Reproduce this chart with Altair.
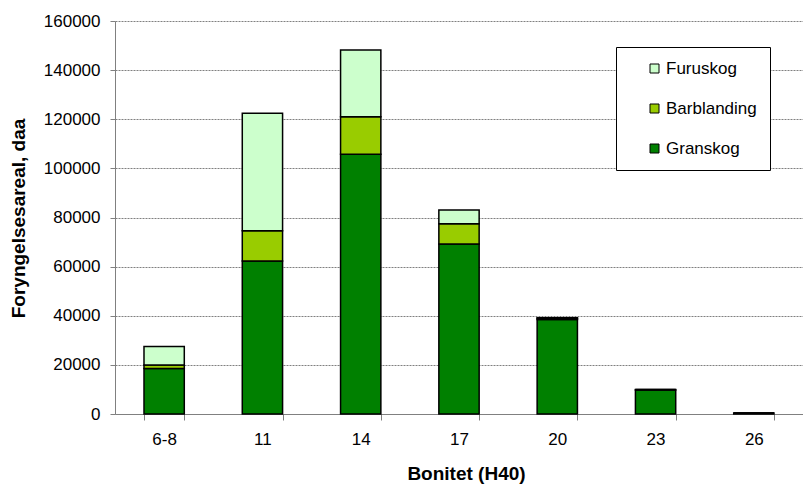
import altair as alt
import pandas as pd

# Forest regeneration area (daa) by site index class, split by forest type
bonitet = ["6-8", "11", "14", "17", "20", "23", "26"]
granskog = [18500, 62300, 105800, 69200, 38500, 9800, 400]
barblanding = [1500, 12300, 15200, 8300, 500, 200, 0]
furuskog = [7500, 47800, 27200, 5600, 200, 0, 0]

series = ["Granskog", "Barblanding", "Furuskog"]
colors = {"Granskog": "#008000", "Barblanding": "#99CC00", "Furuskog": "#CCFFCC"}

rows = []
for i, b in enumerate(bonitet):
    for rank, (name, vals) in enumerate(zip(series, [granskog, barblanding, furuskog])):
        rows.append({"Bonitet": b, "Type": name, "Areal": vals[i], "rank": rank})
df = pd.DataFrame(rows)

legend_order = ["Furuskog", "Barblanding", "Granskog"]
FONT = "Liberation Sans"

chart = (
    alt.Chart(df)
    .mark_bar(stroke="black", strokeWidth=1.5)
    .encode(
        x=alt.X(
            "Bonitet:N",
            sort=bonitet,
            scale=alt.Scale(paddingInner=0.59, paddingOuter=0.295),
            axis=alt.Axis(
                title="Bonitet (H40)",
                labelAngle=0,
                tickBand="extent",
                tickSize=6,
                labelPadding=11,
                titleY=59,
                titleX=351,
                titleBaseline="middle",
            ),
        ),
        y=alt.Y(
            "Areal:Q",
            stack="zero",
            scale=alt.Scale(domain=[0, 160000], nice=False),
            axis=alt.Axis(
                title="Foryngelsesareal, daa",
                values=list(range(0, 160001, 20000)),
                format="d",
                tickSize=5,
                labelPadding=10,
                grid=True,
                gridColor="#808080",
                gridDash=[2, 1],
                gridWidth=1,
                titleX=-97,
                titleY=197,
                titleAngle=-90,
                titleAlign="center",
                titleBaseline="middle",
            ),
        ),
        color=alt.Color(
            "Type:N",
            scale=alt.Scale(domain=legend_order, range=[colors[s] for s in legend_order]),
            legend=alt.Legend(
                title=None,
                orient="none",
                legendX=501,
                legendY=26,
                padding=13,
                symbolType="square",
                symbolSize=81,
                symbolStrokeColor="black",
                symbolStrokeWidth=1,
                symbolOffset=17,
                labelOffset=3,
                rowPadding=22,
                labelFontSize=17,
                labelFont=FONT,
                labelColor="black",
                strokeColor="black",
                fillColor="white",
                labelExpr="datum.label + '       '",
            ),
        ),
        order=alt.Order("rank:Q", sort="ascending"),
    )
    .properties(
        width=688,
        height=393,
        autosize=alt.AutoSizeParams(type="none"),
        padding={"left": 115, "top": 21, "right": 0, "bottom": 72},
        background="white",
    )
    .configure_view(stroke=None)
    .configure_axis(
        labelFont=FONT,
        labelFontSize=17,
        labelColor="black",
        titleFont=FONT,
        titleFontSize=19,
        titleFontWeight="bold",
        titleColor="black",
        domainColor="#808080",
        tickColor="#808080",
        domainWidth=1,
        tickWidth=1,
    )
    .configure_axisX(grid=False)
)

chart.save("out.html", embed_options={"renderer": "svg", "actions": False})
